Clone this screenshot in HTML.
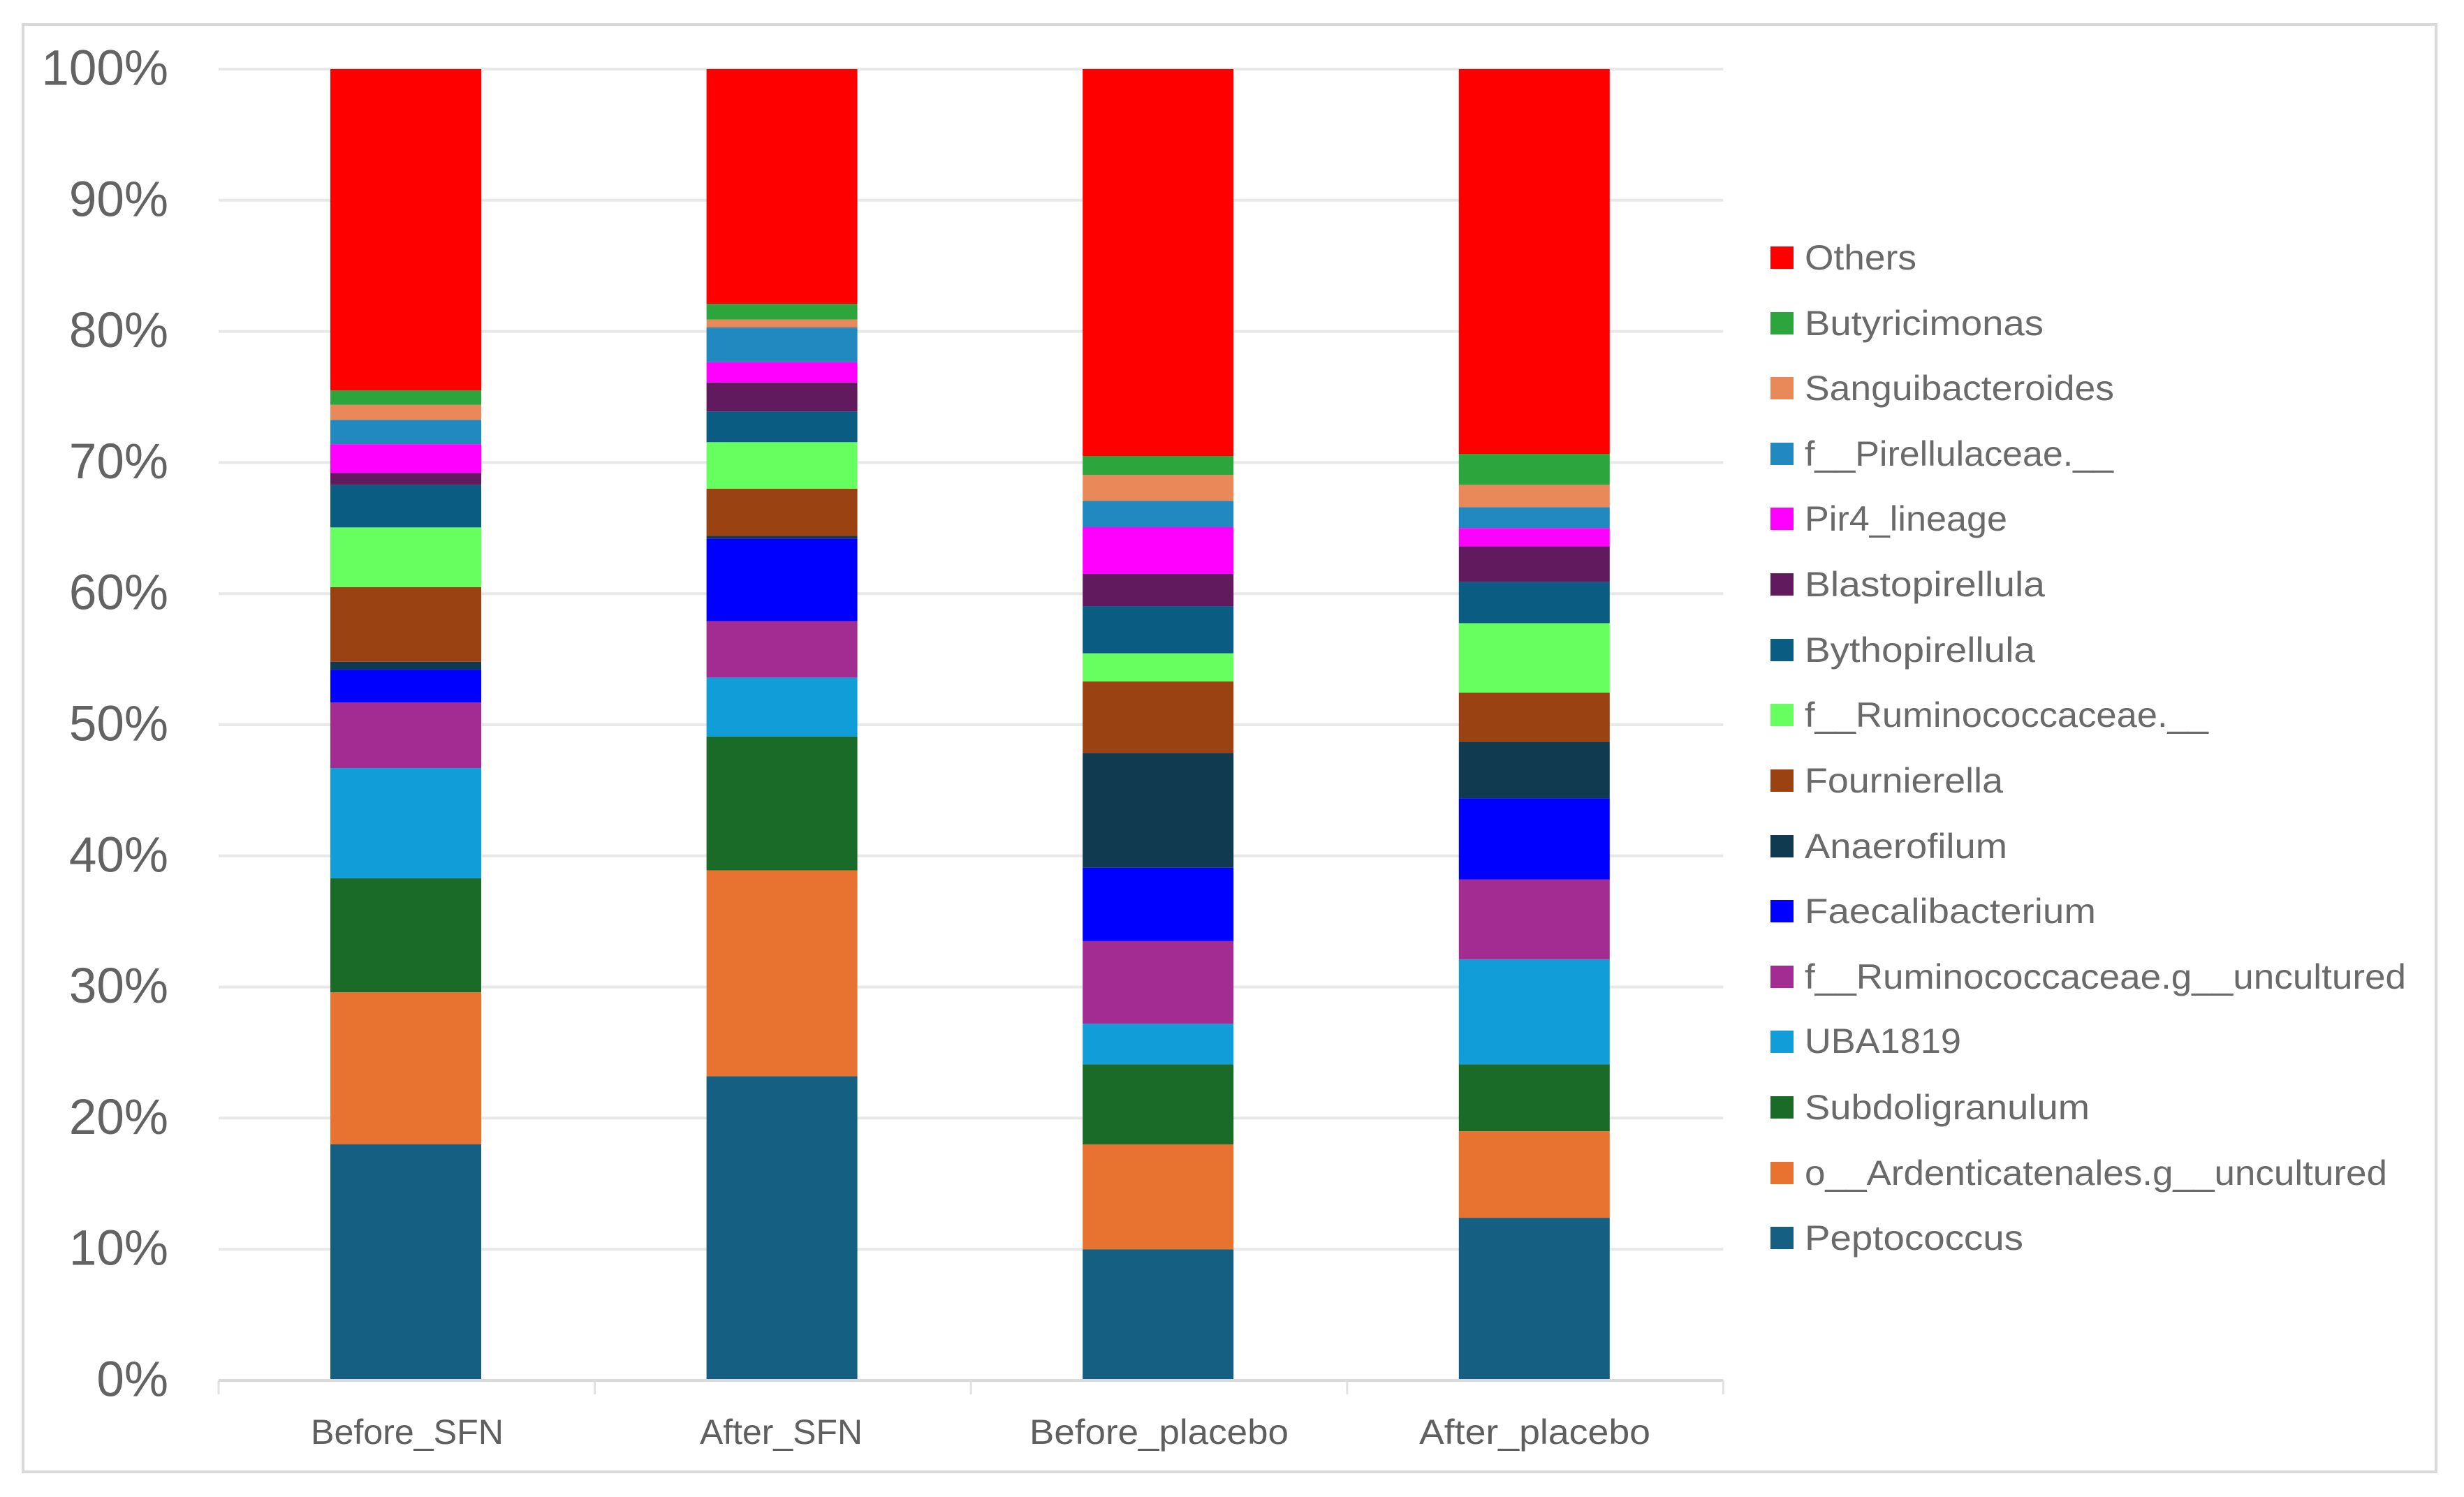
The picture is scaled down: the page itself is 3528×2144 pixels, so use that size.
<!DOCTYPE html>
<html lang="en">
<head>
<meta charset="utf-8">
<title>Stacked genus composition chart</title>
<style>
  html, body { margin: 0; padding: 0; background: #ffffff; }
  svg { display: block; font-family: "Liberation Sans", Arial, sans-serif; }
  .y-label { font-size: 71px; fill: #636363; text-anchor: end; }
  .x-label { font-size: 50px; fill: #5f5f5f; }
  .legend-label { font-size: 50px; fill: #6a6a6a; }
  .peptococcus { fill: #156082; }
  .ardenticatenales { fill: #e8722f; }
  .subdoligranulum { fill: #1a6b27; }
  .uba1819 { fill: #109dd8; }
  .ruminococcaceae-uncultured { fill: #a22c92; }
  .faecalibacterium { fill: #0000ff; }
  .anaerofilum { fill: #0f3a4f; }
  .fournierella { fill: #9a4212; }
  .ruminococcaceae { fill: #66ff5f; }
  .bythopirellula { fill: #0b5c82; }
  .blastopirellula { fill: #621a5e; }
  .pir4-lineage { fill: #ff00ff; }
  .pirellulaceae { fill: #2188c0; }
  .sanguibacteroides { fill: #e9895a; }
  .butyricimonas { fill: #2ca53c; }
  .others { fill: #ff0000; }
</style>
</head>
<body>
<svg id="chart" width="3528" height="2144" viewBox="0 0 3528 2144" xmlns="http://www.w3.org/2000/svg">
  <rect x="33" y="35" width="3455" height="2073" fill="#ffffff" stroke="#d9d9d9" stroke-width="4"/>
  <g id="grid"></g>
  <g id="y-labels"></g>
  <g id="bars"></g>
  <g id="x-axis"></g>
  <g>
    <text class="x-label" x="445" y="2068" textLength="276" lengthAdjust="spacingAndGlyphs">Before_SFN</text>
    <text class="x-label" x="1002" y="2068" textLength="233" lengthAdjust="spacingAndGlyphs">After_SFN</text>
    <text class="x-label" x="1474" y="2068" textLength="371" lengthAdjust="spacingAndGlyphs">Before_placebo</text>
    <text class="x-label" x="2032" y="2068" textLength="331" lengthAdjust="spacingAndGlyphs">After_placebo</text>
  </g>
  <g>
    <g><rect class="others" x="2535" y="353" width="33" height="32"/><text class="legend-label" x="2584" y="386" textLength="160" lengthAdjust="spacingAndGlyphs">Others</text></g>
    <g><rect class="butyricimonas" x="2535" y="447" width="33" height="32"/><text class="legend-label" x="2584" y="480" textLength="342" lengthAdjust="spacingAndGlyphs">Butyricimonas</text></g>
    <g><rect class="sanguibacteroides" x="2535" y="540" width="33" height="32"/><text class="legend-label" x="2584" y="573" textLength="443" lengthAdjust="spacingAndGlyphs">Sanguibacteroides</text></g>
    <g><rect class="pirellulaceae" x="2535" y="634" width="33" height="32"/><text class="legend-label" x="2584" y="667" textLength="442" lengthAdjust="spacingAndGlyphs">f__Pirellulaceae.__</text></g>
    <g><rect class="pir4-lineage" x="2535" y="727" width="33" height="32"/><text class="legend-label" x="2584" y="760" textLength="290" lengthAdjust="spacingAndGlyphs">Pir4_lineage</text></g>
    <g><rect class="blastopirellula" x="2535" y="821" width="33" height="32"/><text class="legend-label" x="2584" y="854" textLength="344" lengthAdjust="spacingAndGlyphs">Blastopirellula</text></g>
    <g><rect class="bythopirellula" x="2535" y="915" width="33" height="32"/><text class="legend-label" x="2584" y="948" textLength="330" lengthAdjust="spacingAndGlyphs">Bythopirellula</text></g>
    <g><rect class="ruminococcaceae" x="2535" y="1008" width="33" height="32"/><text class="legend-label" x="2584" y="1041" textLength="578" lengthAdjust="spacingAndGlyphs">f__Ruminococcaceae.__</text></g>
    <g><rect class="fournierella" x="2535" y="1102" width="33" height="32"/><text class="legend-label" x="2584" y="1135" textLength="284" lengthAdjust="spacingAndGlyphs">Fournierella</text></g>
    <g><rect class="anaerofilum" x="2535" y="1196" width="33" height="32"/><text class="legend-label" x="2584" y="1229" textLength="290" lengthAdjust="spacingAndGlyphs">Anaerofilum</text></g>
    <g><rect class="faecalibacterium" x="2535" y="1289" width="33" height="32"/><text class="legend-label" x="2584" y="1322" textLength="417" lengthAdjust="spacingAndGlyphs">Faecalibacterium</text></g>
    <g><rect class="ruminococcaceae-uncultured" x="2535" y="1383" width="33" height="32"/><text class="legend-label" x="2584" y="1416" textLength="861" lengthAdjust="spacingAndGlyphs">f__Ruminococcaceae.g__uncultured</text></g>
    <g><rect class="uba1819" x="2535" y="1476" width="33" height="32"/><text class="legend-label" x="2584" y="1508" textLength="224" lengthAdjust="spacingAndGlyphs">UBA1819</text></g>
    <g><rect class="subdoligranulum" x="2535" y="1570" width="33" height="32"/><text class="legend-label" x="2584" y="1603" textLength="408" lengthAdjust="spacingAndGlyphs">Subdoligranulum</text></g>
    <g><rect class="ardenticatenales" x="2535" y="1664" width="33" height="32"/><text class="legend-label" x="2584" y="1697" textLength="834" lengthAdjust="spacingAndGlyphs">o__Ardenticatenales.g__uncultured</text></g>
    <g><rect class="peptococcus" x="2535" y="1757" width="33" height="32"/><text class="legend-label" x="2584" y="1790" textLength="313" lengthAdjust="spacingAndGlyphs">Peptococcus</text></g>
  </g>
</svg>
<script>
const categories = ['before-sfn', 'after-sfn', 'before-placebo', 'after-placebo'];
const yTicks = [0, 10, 20, 30, 40, 50, 60, 70, 80, 90, 100];
const peptococcus = [18, 23.2, 10, 12.4];
const ardenticatenales = [11.6, 15.7, 8, 6.6];
const subdoligranulum = [8.7, 10.2, 6.1, 5.1];
const uba1819 = [8.4, 4.5, 3.1, 8];
const ruminococcaceaeUncultured = [5, 4.3, 6.3, 6.1];
const faecalibacterium = [2.5, 6.3, 5.6, 6.2];
const anaerofilum = [0.6, 0.2, 8.75, 4.3];
const fournierella = [5.7, 3.6, 5.45, 3.75];
const ruminococcaceae = [4.55, 3.55, 2.15, 5.3];
const bythopirellula = [3.25, 2.35, 3.6, 3.15];
const blastopirellula = [0.9, 2.2, 2.45, 2.7];
const pir4Lineage = [2.2, 1.55, 3.57, 1.4];
const pirellulaceae = [1.85, 2.65, 2, 1.6];
const sanguibacteroides = [1.15, 0.6, 1.98, 1.7];
const butyricimonas = [1.1, 1.2, 1.45, 2.36];
const others = [24.5, 17.9, 29.5, 29.34];

const seriesKeys = ['peptococcus', 'ardenticatenales', 'subdoligranulum', 'uba1819', 'ruminococcaceae-uncultured', 'faecalibacterium', 'anaerofilum', 'fournierella', 'ruminococcaceae', 'bythopirellula', 'blastopirellula', 'pir4-lineage', 'pirellulaceae', 'sanguibacteroides', 'butyricimonas', 'others'];
const seriesValues = [peptococcus, ardenticatenales, subdoligranulum, uba1819, ruminococcaceaeUncultured, faecalibacterium, anaerofilum, fournierella, ruminococcaceae, bythopirellula, blastopirellula, pir4Lineage, pirellulaceae, sanguibacteroides, butyricimonas, others];

const SVG_NS = 'http://www.w3.org/2000/svg';
const plotLeft = 313;
const bandWidth = 538.6;
const barWidth = 216;
const yZero = 1977;
const pixelsPerPercent = 18.78;

function yScale(value) {
  return yZero - value * pixelsPerPercent;
}
function xBand(index) {
  return plotLeft + bandWidth * index;
}
function make(tag, attrs) {
  const el = document.createElementNS(SVG_NS, tag);
  Object.keys(attrs).forEach(function (k) { el.setAttribute(k, attrs[k]); });
  return el;
}

const gridGroup = document.getElementById('grid');
const yLabelGroup = document.getElementById('y-labels');
yTicks.forEach(function (tick) {
  if (tick !== 0) {
    const line = make('line', { x1: xBand(0), x2: xBand(categories.length), y1: yScale(tick), y2: yScale(tick), stroke: '#e8e8e8', 'stroke-width': 4 });
    
    
    gridGroup.appendChild(line);
  }
  const label = make('text', { class: 'y-label', x: 241, y: yScale(tick) + 22.5 });
  
  
  label.textContent = tick + '%';
  yLabelGroup.appendChild(label);
});

const barGroup = document.getElementById('bars');
categories.forEach(function (category, c) {
  let cumulative = 0;
  const left = xBand(c) + (bandWidth - barWidth) / 2 - 1.3;
  seriesValues.forEach(function (values, s) {
    const top = cumulative + values[c];
    const rect = make('rect', { class: seriesKeys[s], x: left, y: yScale(top), width: barWidth, height: yScale(cumulative) - yScale(top) });
    
    
    barGroup.appendChild(rect);
    cumulative = top;
  });
});

const axisGroup = document.getElementById('x-axis');
const axisLine = make('line', { x1: xBand(0), x2: xBand(categories.length), y1: yZero, y2: yZero, stroke: '#d9d9d9', 'stroke-width': 4 });


axisGroup.appendChild(axisLine);
for (let i = 0; i <= categories.length; i++) {
  const mark = make('line', { x1: xBand(i), x2: xBand(i), y1: yZero, y2: yZero + 20, stroke: '#e2e2e2', 'stroke-width': 3 });
  
  
  axisGroup.appendChild(mark);
}
</script>
</body>
</html>
